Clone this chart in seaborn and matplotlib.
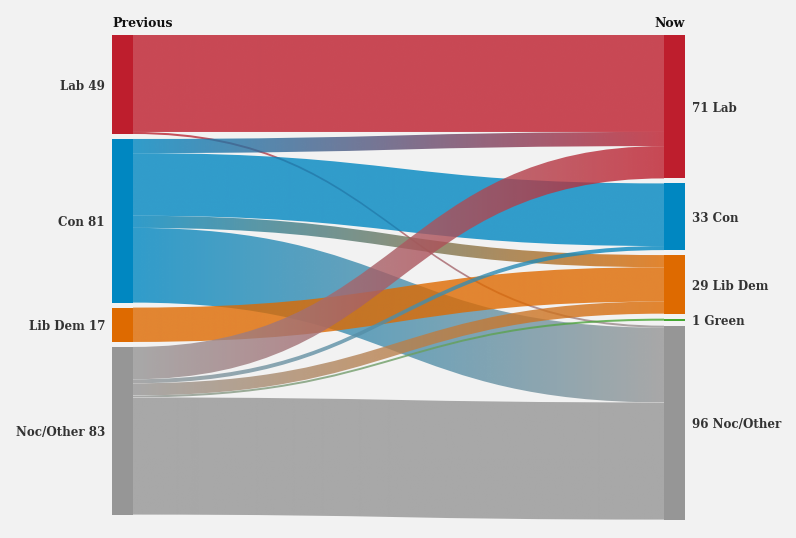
import numpy as np
import matplotlib.pyplot as plt
import seaborn as sns
from matplotlib.path import Path
from matplotlib.patches import PathPatch, Rectangle
from matplotlib.colors import to_rgb

# Seat movements: previous council make-up -> now
prev_parties = ["Lab", "Con", "Lib Dem", "Noc/Other"]
now_parties = ["Lab", "Con", "Lib Dem", "Green", "Noc/Other"]

flow_source = ["Lab", "Lab",
               "Con", "Con", "Con", "Con",
               "Lib Dem",
               "Noc/Other", "Noc/Other", "Noc/Other", "Noc/Other", "Noc/Other"]
flow_target = ["Lab", "Noc/Other",
               "Lab", "Con", "Lib Dem", "Noc/Other",
               "Lib Dem",
               "Lab", "Con", "Lib Dem", "Green", "Noc/Other"]
flow_seats = [48, 1,
              7, 31, 6, 37,
              17,
              16, 2, 6, 1, 58]

party_colours = {"Lab": "#be1e2d", "Con": "#0087c1", "Lib Dem": "#de6a00",
                 "Green": "#44a832", "Noc/Other": "#969696"}

sns.set_theme(style="white")
plt.rcParams["font.family"] = ["DejaVu Serif"]

fig = plt.figure(figsize=(7.96, 5.38), dpi=100, facecolor="#f2f2f2")
ax = fig.add_axes([0, 0, 1, 1])
ax.set_facecolor("#f2f2f2")

px = 2.02          # pixels per seat
gap = 5 / px       # gap between nodes, in seats
top = 35 / px
left_x0, left_x1 = 112, 133
right_x0, right_x1 = 664, 685
alpha = 0.8
text_shift = 2 / px


def node_totals(parties, key):
    return {p: sum(v for k, v in zip(key, flow_seats) if k == p) for p in parties}


prev_tot = node_totals(prev_parties, flow_source)
now_tot = node_totals(now_parties, flow_target)


def stack(parties, totals):
    pos, y = {}, 0.0
    for p in parties:
        pos[p] = (y, y + totals[p])
        y += totals[p] + gap
    return pos


prev_pos = stack(prev_parties, prev_tot)
now_pos = stack(now_parties, now_tot)

# node bars
for parties, pos, x0, x1 in [(prev_parties, prev_pos, left_x0, left_x1),
                             (now_parties, now_pos, right_x0, right_x1)]:
    for p in parties:
        y0, y1 = pos[p]
        ax.add_patch(Rectangle((x0, y0), x1 - x0, y1 - y0,
                               color=party_colours[p], lw=0, zorder=3))

# link offsets inside each node
src_off = {p: prev_pos[p][0] for p in prev_parties}
tgt_off = {p: now_pos[p][0] for p in now_parties}
links = []
for s, t, v in zip(flow_source, flow_target, flow_seats):
    links.append([s, t, v, src_off[s], None])
    src_off[s] += v
for p in prev_parties:
    for lk in links:
        if lk[0] == p:
            lk[4] = tgt_off[lk[1]]
            tgt_off[lk[1]] += lk[2]

xa, xb = left_x1, right_x0
xm = (xa + xb) / 2
for s, t, v, sy, ty in links:
    verts = [(xa, sy), (xm, sy), (xm, ty), (xb, ty),
             (xb, ty + v), (xm, ty + v), (xm, sy + v), (xa, sy + v), (xa, sy)]
    codes = [Path.MOVETO, Path.CURVE4, Path.CURVE4, Path.CURVE4,
             Path.LINETO, Path.CURVE4, Path.CURVE4, Path.CURVE4, Path.CLOSEPOLY]
    patch = PathPatch(Path(verts, codes), facecolor="none", edgecolor="none")
    ax.add_patch(patch)
    c0, c1 = np.array(to_rgb(party_colours[s])), np.array(to_rgb(party_colours[t]))
    frac = np.linspace(0, 1, 256)[:, None]
    grad = np.hstack([c0 * (1 - frac) + c1 * frac, np.full((256, 1), alpha)])
    ymin, ymax = min(sy, ty), max(sy, ty) + v
    im = ax.imshow(grad[None, :, :], extent=[xa, xb, ymax, ymin], aspect="auto",
                   interpolation="bilinear", zorder=2)
    im.set_clip_path(patch)

# labels
for p in prev_parties:
    y0, y1 = prev_pos[p]
    ax.text(left_x0 - 7, (y0 + y1) / 2 + text_shift, f"{p} {prev_tot[p]}",
            ha="right", va="center", fontsize=8.6, fontweight="bold", color="#333333")
for p in now_parties:
    y0, y1 = now_pos[p]
    ax.text(right_x1 + 7, (y0 + y1) / 2 + text_shift, f"{now_tot[p]} {p}",
            ha="left", va="center", fontsize=8.6, fontweight="bold", color="#333333")
ax.text(left_x0, -13 / px + text_shift, "Previous", ha="left", va="center",
        fontsize=9, fontweight="bold", color="#111111")
ax.text(right_x1, -13 / px + text_shift, "Now", ha="right", va="center",
        fontsize=9, fontweight="bold", color="#111111")

ax.set_xlim(0, 796)
ax.set_ylim(538 / px - top, -top)
ax.axis("off")

fig.savefig("out.png", dpi=100, facecolor=fig.get_facecolor())
